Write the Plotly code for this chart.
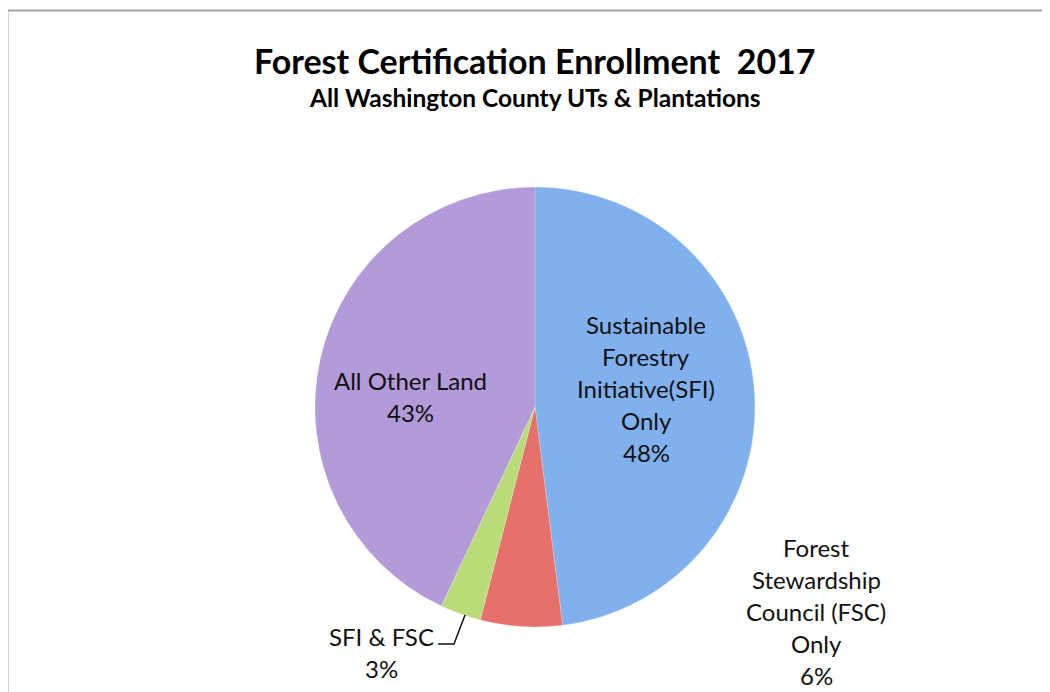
"""Pie chart of forest certification enrollment, Washington County 2017."""

import plotly.graph_objects as go

# Data
categories = [
    "Sustainable<br>Forestry<br>Initiative(SFI)<br>Only",
    "Forest<br>Stewardship<br>Council (FSC)<br>Only",
    "SFI & FSC",
    "All Other Land",
]
shares = [48, 6, 3, 43]
slice_colors = ["#80b1ee", "#e6706a", "#b9dc78", "#b39ad8"]

title_text = "Forest Certification Enrollment  2017"
subtitle_text = "All Washington County UTs & Plantations"

# the page puts the plot 8px in from the window corner
OFF = 8
W, H = 1050 - OFF, 692 - OFF
FONT = "Lato"
LINE_GAP = 32  # px between label lines


def px_x(x):
    return (x - OFF) / W


def px_y(y):
    return 1 - (y - OFF) / H


fig = go.Figure()

fig.add_trace(go.Pie(
    labels=categories,
    values=shares,
    sort=False,
    direction="clockwise",
    rotation=0,
    marker=dict(colors=slice_colors, line=dict(color="rgba(255,255,255,0.4)", width=0.5)),
    textinfo="none",
    hoverinfo="label+percent",
    showlegend=False,
    domain=dict(x=[px_x(315), px_x(755)], y=[px_y(627), px_y(187)]),
))

# Slice labels (label + percentage), centre of each text block
label_spots = [(646, 388), (816, 611), (381, 652), (410, 396)]
for name, val, (lx, ly) in zip(categories, shares, label_spots):
    lines = name.split("<br>") + [f"{val}%"]
    top = ly - LINE_GAP * (len(lines) - 1) / 2
    for k, line in enumerate(lines):
        fig.add_annotation(
            x=px_x(lx), y=px_y(top + k * LINE_GAP), xref="paper", yref="paper",
            text=line, showarrow=False,
            xanchor="center", yanchor="middle",
            font=dict(family=FONT, size=24, color="#111111"),
        )

# leader line for the small slice
fig.add_shape(
    type="path", xref="paper", yref="paper",
    path=f"M {px_x(438)} {px_y(644)} L {px_x(454)} {px_y(644)} L {px_x(465)} {px_y(615)}",
    line=dict(color="#111111", width=1.5),
)

# chart border (runs past the right and bottom edges)
fig.add_shape(
    type="rect", xref="paper", yref="paper",
    x0=px_x(7.5), x1=1.05, y0=-0.05, y1=px_y(10.5),
    line=dict(color="#a6a6a6", width=2),
)

fig.add_annotation(
    x=px_x(535), y=px_y(61), xref="paper", yref="paper",
    text=f"<b>{title_text}</b>", showarrow=False,
    xanchor="center", yanchor="middle",
    font=dict(family=FONT, size=34, color="#000000"),
)
fig.add_annotation(
    x=px_x(535), y=px_y(98), xref="paper", yref="paper",
    text=f"<b>{subtitle_text}</b>", showarrow=False,
    xanchor="center", yanchor="middle",
    font=dict(family=FONT, size=24.5, color="#000000"),
)

fig.update_layout(
    width=W, height=H,
    margin=dict(l=0, r=0, t=0, b=0),
    paper_bgcolor="white",
    plot_bgcolor="white",
)

fig.write_html("out.html")
